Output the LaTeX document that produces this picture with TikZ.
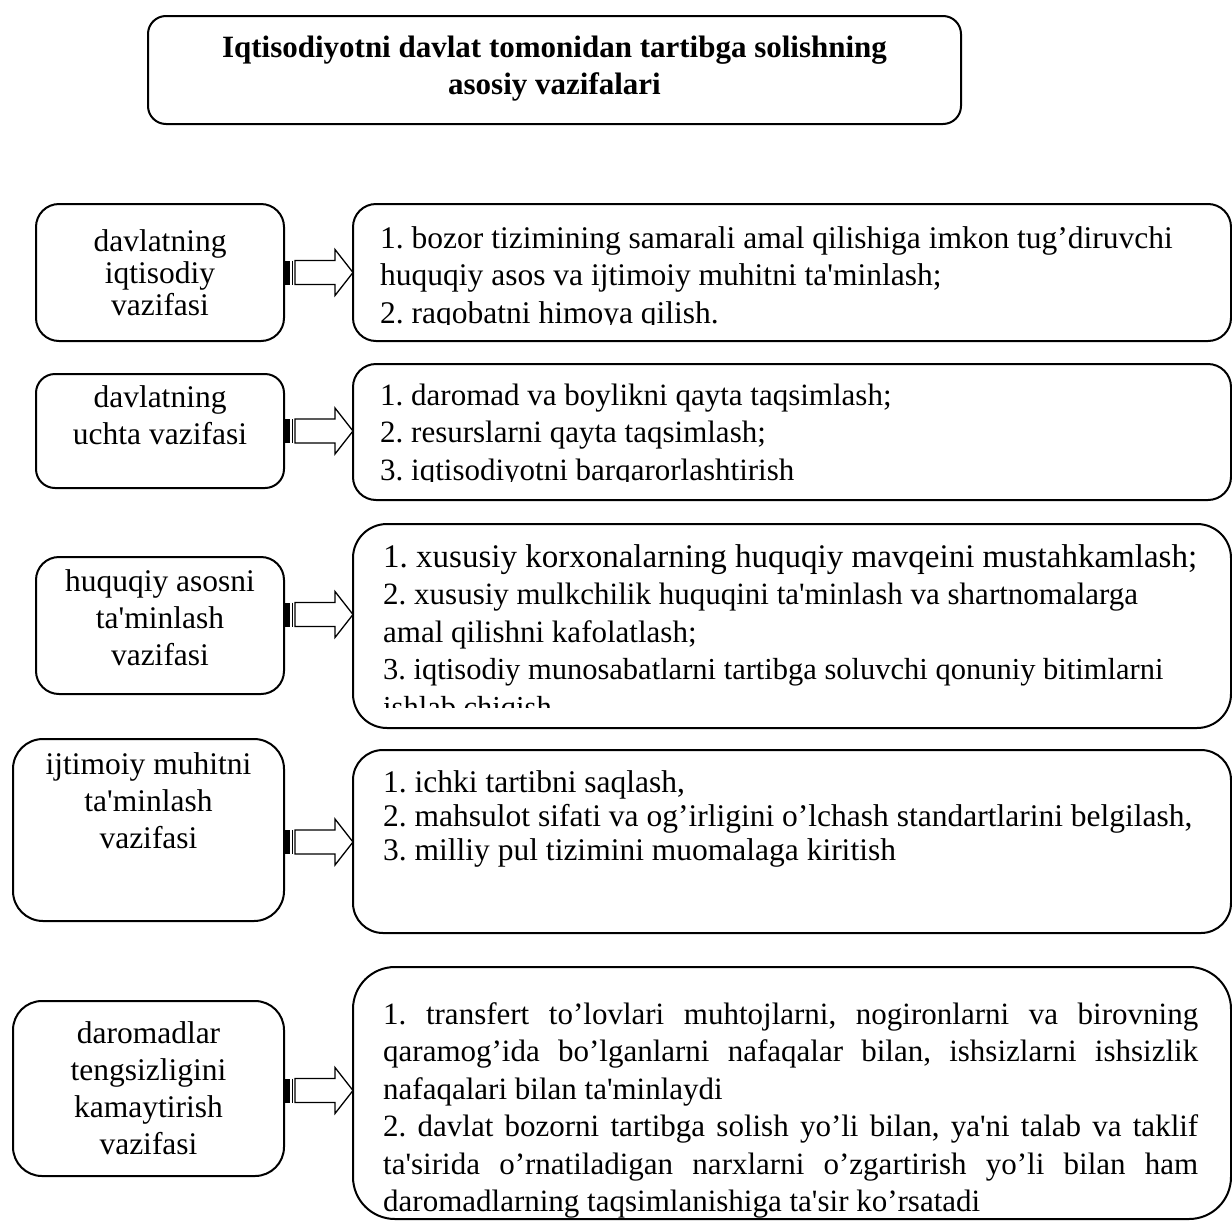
\documentclass[tikz,border=0pt]{standalone}
\usepackage{fontspec}
\newfontfamily\uzfont{Liberation Serif}
\usetikzlibrary{calc}
\setlength{\parindent}{0pt}
\frenchspacing
\newcommand{\topstrut}{\rule{0pt}{30pt}}
\tikzset{
  roundbox/.style={draw,line width=2pt,rounded corners=#1,inner sep=0pt,anchor=north west},
  headtext/.style={align=center,inner sep=0pt,font=\uzfont\bfseries\fontsize{31}{37}\selectfont},
  sidetext/.style={align=center,inner sep=0pt,font=\uzfont\fontsize{31.5}{37}\selectfont},
  listtext/.style={anchor=north west,inner sep=0pt,align=left,font=\uzfont\fontsize{31}{37.5}\selectfont}
}
% striped block arrow, drawn from the given point to the right
\newcommand{\stripearrow}[1]{%
  \begin{scope}[shift={(#1)}]
    \fill (0,-12) rectangle (5,12);
    \draw[line width=1pt] (7.5,-12) -- (7.5,12);
    \draw[line width=1.3pt,fill=white] (10,-12) -- (50,-12) -- (50,-23) -- (68,0)
      -- (50,23) -- (50,12) -- (10,12) -- cycle;
  \end{scope}}

\begin{document}
\begin{tikzpicture}[x=1pt,y=-1pt]
  \useasboundingbox (0,0) rectangle (1232,1221);

  % title
  \node[roundbox=18,minimum width=813pt,minimum height=108pt] (title) at (147,15) {};
  \node[headtext] at ($(title.center)+(0,-1)$)
    {Iqtisodiyotni davlat tomonidan tartibga solishning\\asosiy vazifalari};

  % left column
  \node[roundbox=23,minimum width=248pt,minimum height=137pt] (l1) at (35,203) {};
  \node[roundbox=19,minimum width=248pt,minimum height=114pt] (l2) at (35,373) {};
  \node[roundbox=23,minimum width=248pt,minimum height=137pt] (l3) at (35,556) {};
  \node[roundbox=30,minimum width=271pt,minimum height=182pt] (l4) at (12,738) {};
  \node[roundbox=29,minimum width=271pt,minimum height=175pt] (l5) at (12,1000) {};

  \node[sidetext,font=\uzfont\fontsize{31.5}{32}\selectfont] at (l1.center)
    {davlatning\\iqtisodiy\\vazifasi};
  \node[sidetext] at ($(l2.center)+(0,-16)$) {davlatning\\uchta vazifasi};
  \node[sidetext] at ($(l3.center)+(0,-8)$) {huquqiy asosni\\ta'minlash\\vazifasi};
  \node[sidetext] at ($(l4.center)+(0,-29)$) {ijtimoiy muhitni\\ta'minlash\\vazifasi};
  \node[sidetext] at (l5.center) {daromadlar\\tengsizligini\\kamaytirish\\vazifasi};

  % right column
  \node[roundbox=23,minimum width=878pt,minimum height=137pt] (r1) at (352,203) {};
  \node[roundbox=23,minimum width=878pt,minimum height=136pt] (r2) at (352,363) {};
  \node[roundbox=34,minimum width=878pt,minimum height=204pt] (r3) at (352,523) {};
  \node[roundbox=30,minimum width=878pt,minimum height=183pt] (r4) at (352,749) {};
  \node[roundbox=42,minimum width=878pt,minimum height=252pt] (r5) at (352,966) {};

  \begin{scope}
    \clip (352,203) rectangle (1230,324);
    \node[listtext,font=\uzfont\fontsize{31.5}{37.5}\selectfont] at (380,218)
      {\topstrut 1. bozor tizimining samarali amal qilishiga imkon tug’diruvchi\\
       huquqiy asos va ijtimoiy muhitni ta'minlash;\\
       2. raqobatni himoya qilish.};
  \end{scope}
  \begin{scope}
    \clip (352,363) rectangle (1230,481);
    \node[listtext] at (380,375)
      {\topstrut 1. daromad va boylikni qayta taqsimlash;\\
       2. resurslarni qayta taqsimlash;\\
       3. iqtisodiyotni barqarorlashtirish};
  \end{scope}
  \begin{scope}
    \clip (352,523) rectangle (1230,707);
    \node[listtext] at (383,537)
      {\topstrut{\fontsize{33}{37.5}\selectfont 1. xususiy korxonalarning huquqiy mavqeini mustahkamlash;}\\
       2. xususiy mulkchilik huquqini ta'minlash va shartnomalarga\\
       amal qilishni kafolatlash;\\
       {\fontsize{30.5}{37.5}\selectfont 3. iqtisodiy munosabatlarni tartibga soluvchi qonuniy bitimlarni}\\
       {\fontsize{30.5}{37.5}\selectfont ishlab chiqish}};
  \end{scope}
  \node[listtext,font=\uzfont\fontsize{31.5}{34}\selectfont] at (383,762)
    {\topstrut 1. ichki tartibni saqlash,\\
     2. mahsulot sifati va og’irligini o’lchash standartlarini belgilash,\\
     3. milliy pul tizimini muomalaga kiritish};
  \node[listtext,align=justify,text width=815pt] at (383,994)
    {\topstrut 1. transfert to’lovlari muhtojlarni, nogironlarni va birovning\linebreak
     qaramog’ida bo’lganlarni nafaqalar bilan, ishsizlarni ishsizlik\linebreak
     nafaqalari bilan ta'minlaydi\par
     2. davlat bozorni tartibga solish yo’li bilan, ya'ni talab va taklif\linebreak
     ta'sirida o’rnatiladigan narxlarni o’zgartirish yo’li bilan ham\linebreak
     daromadlarning taqsimlanishiga ta'sir ko’rsatadi};

  % arrows between the columns
  \stripearrow{l1.east}
  \stripearrow{l2.east}
  \stripearrow{$(l3.east)+(0,-11)$}
  \stripearrow{$(l4.east)+(0,12)$}
  \stripearrow{$(l5.east)+(0,2)$}
\end{tikzpicture}
\end{document}
